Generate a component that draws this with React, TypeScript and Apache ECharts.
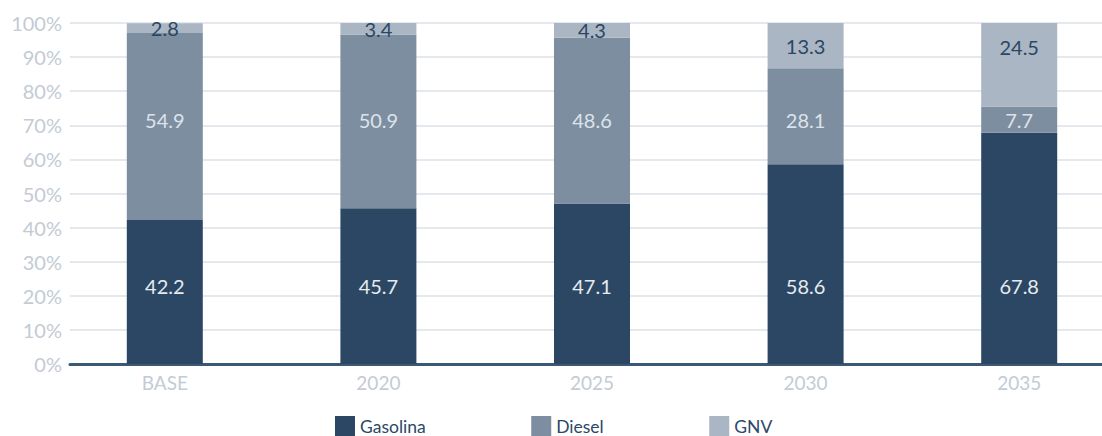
import React, { useEffect, useRef } from "react";
import * as echarts from "echarts";

const categories = ["BASE", "2020", "2025", "2030", "2035"];
const gasolina = [42.2, 45.7, 47.1, 58.6, 67.8];
const diesel = [54.9, 50.9, 48.6, 28.1, 7.7];
const gnv = [2.8, 3.4, 4.3, 13.3, 24.5];
const yTicks = [0, 10, 20, 30, 40, 50, 60, 70, 80, 90, 100];

const FONT = "Lato";
const GRID_TOP = 23;
const GRID_BOTTOM = 72;
const PLOT_H = 436 - GRID_TOP - GRID_BOTTOM;
const PX = PLOT_H / 100;

export default function App() {
  const ref = useRef<HTMLDivElement>(null);
  useEffect(() => {
    if (!ref.current) return;
    const chart = echarts.init(ref.current, null, { renderer: "svg" });

    const gasData = gasolina.map((v) => ({
      value: v,
      label: { offset: [0, (v / 2 - 22.9) * PX] },
    }));
    const dieData = diesel.map((v, i) => ({
      value: v,
      label: { offset: [0, (gasolina[i] + v / 2 - 71.6) * PX] },
    }));
    const gnvData = gnv.map((v) => ({
      value: v,
      label: { offset: [0, -Math.max(0, v / 2 - 7) * PX] },
    }));

    chart.setOption({
      animation: false,
      textStyle: { fontFamily: FONT },
      grid: [
        { left: 70, right: 24, top: GRID_TOP, bottom: GRID_BOTTOM },
        { left: 58, right: 0, top: GRID_TOP, bottom: GRID_BOTTOM },
      ],
      legend: {
        left: 335,
        top: 416,
        padding: 0,
        itemWidth: 20,
        itemHeight: 20,
        itemGap: 105.5,
        icon: "rect",
        textStyle: { fontFamily: FONT, fontSize: 17.5, color: "#2c4866" },
        data: ["Gasolina", "Diesel", "GNV"],
      },
      xAxis: [
        {
          type: "value",
          gridIndex: 0,
          min: 0,
          max: 1,
          axisLine: { show: true, onZero: false, lineStyle: { color: "#3b5875", width: 3 } },
          axisTick: { show: false },
          axisLabel: { show: false },
          splitLine: { show: false },
        },
        {
          type: "category",
          gridIndex: 1,
          data: categories,
          axisLine: { show: false },
          axisTick: { show: false },
          axisLabel: { color: "#c3cbd4", fontSize: 19, fontFamily: FONT, margin: 9 },
          splitLine: { show: false },
        },
      ],
      yAxis: [
        {
          type: "value",
          gridIndex: 0,
          min: 0,
          max: 100,
          interval: 10,
          axisLine: { show: false },
          axisTick: { show: false },
          axisLabel: {
            color: "#c3cbd4",
            fontSize: 20,
            fontFamily: FONT,
            margin: 8,
            formatter: (v: number) => (yTicks.includes(v) ? v + "%" : ""),
          },
          splitLine: { show: true, lineStyle: { color: "#e5e9ee", width: 2 } },
        },
        {
          type: "value",
          gridIndex: 1,
          min: 0,
          max: 100,
          show: false,
          splitLine: { show: false },
        },
      ],
      series: [
        {
          name: "Gasolina",
          type: "bar",
          stack: "total",
          xAxisIndex: 1,
          yAxisIndex: 1,
          barWidth: 76,
          itemStyle: { color: "#2b4764" },
          label: { show: true, position: "inside", color: "#e6ebf0", fontSize: 20, fontFamily: FONT },
          data: gasData,
        },
        {
          name: "Diesel",
          type: "bar",
          stack: "total",
          xAxisIndex: 1,
          yAxisIndex: 1,
          barWidth: 76,
          itemStyle: { color: "#7d8ea1" },
          label: { show: true, position: "inside", color: "#dde3ea", fontSize: 20, fontFamily: FONT },
          data: dieData,
        },
        {
          name: "GNV",
          type: "bar",
          stack: "total",
          xAxisIndex: 1,
          yAxisIndex: 1,
          barWidth: 76,
          itemStyle: { color: "#aab6c3" },
          label: { show: true, position: "inside", color: "#2b4764", fontSize: 20, fontFamily: FONT },
          data: gnvData,
        },
      ],
    });
    return () => chart.dispose();
  }, []);
  return (
    <div
      style={{ position: "absolute", left: 0, top: 0, width: 1102, height: 436, overflow: "hidden", background: "#fff" }}
    >
      <div ref={ref} style={{ width: 1126, height: 436 }} />
    </div>
  );
}
